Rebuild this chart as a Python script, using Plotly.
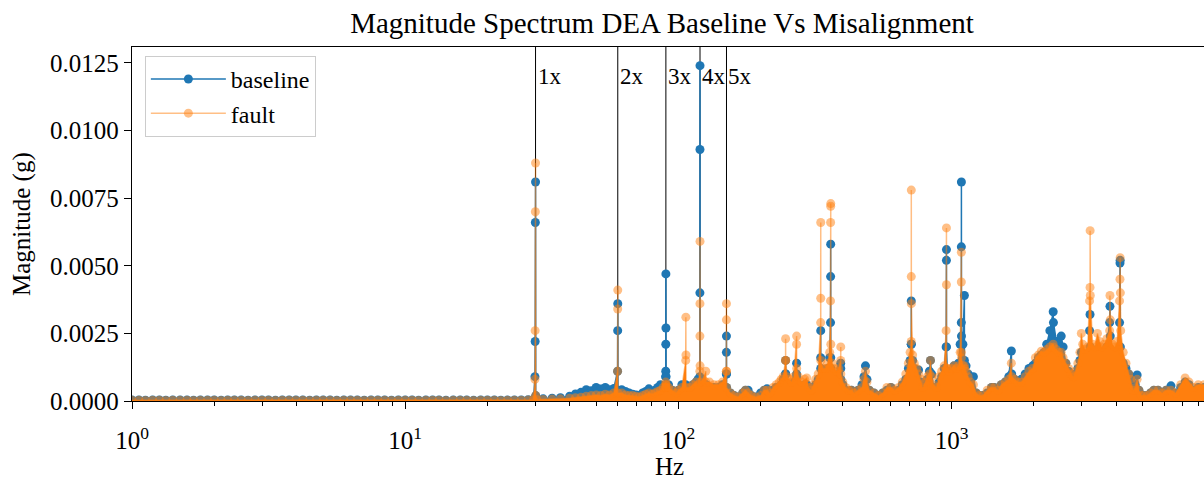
import numpy as np
import plotly.graph_objects as go

# ---------------- data ----------------
freq_hz = [
    # 1 - 30 Hz floor
    1.0, 1.06, 1.12, 1.19, 1.26, 1.33, 1.41, 1.5, 1.59, 1.68, 1.78, 1.89, 2.0, 2.12, 2.24, 2.37, 2.51, 2.66,
    2.82, 2.99, 3.16, 3.35, 3.55, 3.76, 3.98, 4.22, 4.47, 4.73, 5.01, 5.31, 5.62, 5.96, 6.31, 6.68, 7.08, 7.5,
    7.94, 8.41, 8.91, 9.44, 10.0, 10.6, 11.2, 11.9, 12.6, 13.3, 14.1, 15.0, 15.9, 16.8, 17.8, 18.9, 20.0, 21.2,
    22.4, 23.7, 25.1, 26.6, 28.2, 29.5,
    # 30 Hz peak and 30 - 60 Hz
    29.85, 29.9, 29.95, 30.0, 30.05, 30.3, 32.0, 34.5, 37.0, 40.0, 42.0, 44.0, 46.0, 48.0, 50.0, 52.0, 54.0,
    56.0, 58.0,
    # 60 Hz peak and 60 - 90 Hz
    59.9, 59.95, 60.0, 60.05, 62.0, 64.0, 66.0, 68.0, 70.0, 72.0, 74.0, 76.0, 78.0, 80.0, 82.0, 84.0, 86.0, 88.0,
    # 90 - 150 Hz
    89.8, 89.9, 89.95, 90.0, 90.05, 90.15, 92.0, 95.0, 98.0, 100.0, 103.0, 106.4, 106.5, 106.6, 106.7, 110.0,
    113.0, 116.0, 118.0, 119.85, 119.9, 119.95, 120.0, 120.05, 120.2, 123.0, 126.0, 126.1, 130.0, 135.0, 140.0,
    145.0, 149.8, 149.9, 149.95, 150.0, 150.1,
    # 150 - 300 Hz
    155, 160, 165, 172, 176, 180, 185, 192, 200, 206, 211, 216, 222, 228, 234, 238, 242, 246.8, 246.9, 247.0,
    250, 255, 260, 265, 270.8, 270.9, 271.0, 275, 283, 290, 295, 300,
    # 300 - 500 Hz
    306, 312, 318, 325, 331.8, 331.9, 332.0, 332.1, 338, 345, 352, 358, 360.5, 360.8, 361.0, 361.2, 361.4, 366,
    372, 380, 386, 392.8, 393.0, 393.2, 400, 410, 420, 430, 440, 455, 470, 478, 484, 490, 500,
    # 500 - 1000 Hz
    520, 540, 560, 580, 600, 620, 640, 660, 680, 695, 705, 711.8, 712.0, 712.2, 712.4, 720, 730, 745, 757, 770,
    785, 800, 815, 830, 837, 845, 860, 880, 900, 920, 940, 955, 957.6, 957.8, 958.0, 965, 980,
    # 1000 - 2000 Hz
    1000, 1020, 1040, 1060, 1075, 1085.5, 1086.0, 1086.5, 1087.0, 1100, 1114.0, 1114.5, 1130, 1150, 1175, 1202,
    1230, 1260, 1300, 1350, 1400, 1434, 1480, 1520, 1570, 1620, 1655, 1660, 1700, 1750, 1800, 1860, 1920, 1980,
    # 2000 - 8400 Hz
    2027, 2080, 2130, 2180, 2230, 2290, 2355, 2360, 2420, 2470,
    2520, 2560, 2620, 2680, 2740, 2790, 2840, 2900, 2950, 2985,
    3020, 3080, 3150, 3200, 3212, 3215, 3220, 3280, 3350, 3420,
    3480, 3550, 3620, 3700, 3790, 3800, 3810, 3880, 3960, 4040,
    4120, 4135, 4141, 4148, 4160, 4250, 4350, 4450, 4530, 4620,
    4700, 4777, 4850, 4950, 5050, 5200, 5350, 5500, 5700, 5900,
    6100, 6355, 6600, 6900, 7159, 7400, 7700, 8000, 8400,
]

baseline_g = [
    0.00004, 0.00004, 0.00003, 0.00004, 0.00004, 0.00003, 0.00004, 0.00004, 0.00004, 0.00003, 0.00004, 0.00004,
    0.00004, 0.00003, 0.00004, 0.00004, 0.00004, 0.00003, 0.00004, 0.00004, 0.00004, 0.00003, 0.00004, 0.00004,
    0.00004, 0.00004, 0.00003, 0.00004, 0.00004, 0.00004, 0.00003, 0.00004, 0.00004, 0.00004, 0.00003, 0.00004,
    0.00004, 0.00004, 0.00003, 0.00004, 0.00004, 0.00004, 0.00003, 0.00004, 0.00004, 0.00004, 0.00003, 0.00004,
    0.00004, 0.00004, 0.00003, 0.00004, 0.00004, 0.00004, 0.00003, 0.00004, 0.00004, 0.00004, 0.00005, 0.00006,
    0.0009, 0.0022, 0.0066, 0.0081, 0.0002, 0.00008, 0.00008, 0.0001, 0.00012, 0.00018, 0.00026, 0.00032,
    0.00042, 0.00038, 0.0005, 0.00044, 0.0005, 0.00042, 0.00046,
    0.0011, 0.0026, 0.0036, 0.0004, 0.00042, 0.00035, 0.0003, 0.00025, 0.00022, 0.0002, 0.0003, 0.00035,
    0.00045, 0.0003, 0.0004, 0.0005, 0.0006, 0.00055,
    0.0009, 0.0011, 0.0021, 0.0047, 0.0027, 0.0009, 0.0006, 0.0004, 0.0003, 0.0004, 0.0006, 0.0006, 0.0005,
    0.0005, 0.0005, 0.0005, 0.0006, 0.0007, 0.0008, 0.0009, 0.0040, 0.0093, 0.0124, 0.0007, 0.0007, 0.0006,
    0.0006, 0.0006, 0.0005, 0.0005, 0.0005, 0.0006, 0.0010, 0.0018, 0.0024, 0.0010, 0.0005,
    0.0003, 0.0002, 0.00015, 0.0003, 0.0004, 0.0004, 0.0002, 0.00015, 0.0003, 0.0004, 0.00045, 0.0003, 0.0004,
    0.0005, 0.0005, 0.0006, 0.0008, 0.0010, 0.0015, 0.0010, 0.0006, 0.0006, 0.0005, 0.0007, 0.0010, 0.0014,
    0.0009, 0.0006, 0.0005, 0.0006, 0.0006, 0.0004,
    0.0003, 0.0005, 0.0006, 0.0008, 0.0016, 0.0026, 0.0012, 0.0008, 0.0009, 0.0010, 0.0012, 0.0016, 0.0029,
    0.0046, 0.0058, 0.0016, 0.0012, 0.0010, 0.0009, 0.0008, 0.0010, 0.0014, 0.0012, 0.0008, 0.0006, 0.0004,
    0.0003, 0.0004, 0.0003, 0.0004, 0.0006, 0.0009, 0.0013, 0.0008, 0.0004,
    0.0003, 0.0002, 0.0003, 0.0004, 0.0005, 0.0003, 0.0004, 0.0006, 0.0008, 0.0012, 0.0015, 0.0021, 0.0037,
    0.0021, 0.0012, 0.0015, 0.0012, 0.0010, 0.00115, 0.0007, 0.0004, 0.0006, 0.0008, 0.0011, 0.0015, 0.0010,
    0.0005, 0.0004, 0.0007, 0.0009, 0.0012, 0.0020, 0.0052, 0.0056, 0.0020, 0.0011, 0.0010,
    0.0011, 0.0013, 0.0012, 0.0014, 0.0021, 0.0029, 0.0057, 0.0081, 0.0024, 0.0021, 0.0039, 0.0015, 0.0013,
    0.0010, 0.0008, 0.0009, 0.0003, 0.0002, 0.0002, 0.0003, 0.0005, 0.0005, 0.0004, 0.0006, 0.0007, 0.0009,
    0.00185, 0.0010, 0.0008, 0.0007, 0.0008, 0.0010, 0.0012, 0.0013,
    0.0014, 0.0016, 0.0017, 0.0018, 0.0021, 0.0026, 0.0033, 0.0029, 0.0022, 0.0020,
    0.0024, 0.0020, 0.0014, 0.0011, 0.0009, 0.0008, 0.0010, 0.0012, 0.0015, 0.0018,
    0.0016, 0.0015, 0.0017, 0.0026, 0.0032, 0.0020, 0.0018, 0.0017, 0.0016, 0.0019,
    0.0017, 0.0016, 0.0017, 0.0020, 0.0029, 0.0035, 0.0024, 0.0017, 0.0016, 0.0018,
    0.0029, 0.0051, 0.0052, 0.0020, 0.0015, 0.0014, 0.0012, 0.0010, 0.0008, 0.0004,
    0.0006, 0.00096, 0.0004, 0.0002, 0.0002, 0.0002, 0.0003, 0.0004, 0.0004, 0.0003,
    0.0004, 0.00056, 0.0003, 0.0005, 0.0007, 0.0006, 0.0004, 0.0005, 0.0005,
]

fault_g = [
    0.00003, 0.00003, 0.00002, 0.00003, 0.00003, 0.00002, 0.00003, 0.00003, 0.00003, 0.00002, 0.00003, 0.00003,
    0.00003, 0.00002, 0.00003, 0.00003, 0.00003, 0.00002, 0.00003, 0.00003, 0.00003, 0.00002, 0.00003, 0.00003,
    0.00003, 0.00003, 0.00002, 0.00003, 0.00003, 0.00003, 0.00002, 0.00003, 0.00003, 0.00003, 0.00002, 0.00003,
    0.00003, 0.00003, 0.00002, 0.00003, 0.00003, 0.00003, 0.00002, 0.00003, 0.00003, 0.00003, 0.00002, 0.00003,
    0.00003, 0.00003, 0.00002, 0.00003, 0.00003, 0.00003, 0.00002, 0.00003, 0.00003, 0.00003, 0.00004, 0.00005,
    0.0008, 0.0026, 0.0070, 0.0088, 0.0002, 0.00006, 0.00006, 0.00007, 0.00008, 0.0001, 0.00012, 0.00014,
    0.00018, 0.0002, 0.00022, 0.0002, 0.00025, 0.00022, 0.0003,
    0.0011, 0.0034, 0.0041, 0.0003, 0.0003, 0.00022, 0.0002, 0.0002, 0.00018, 0.00015, 0.0002, 0.00025,
    0.0003, 0.00025, 0.0003, 0.00035, 0.0004, 0.0005,
    0.0005, 0.0007, 0.0005, 0.0006, 0.0005, 0.0006, 0.0005, 0.0004, 0.0003, 0.0004, 0.0005, 0.0015, 0.0031,
    0.0017, 0.0005, 0.0005, 0.0006, 0.0007, 0.0006, 0.0011, 0.0024, 0.0036, 0.0059, 0.0013, 0.0007, 0.0008,
    0.0011, 0.0007, 0.0007, 0.0006, 0.0006, 0.0007, 0.0011, 0.0030, 0.0036, 0.0011, 0.0005,
    0.0003, 0.0002, 0.00015, 0.0003, 0.0004, 0.0003, 0.0002, 0.00015, 0.0002, 0.0004, 0.0004, 0.0003, 0.0005,
    0.0006, 0.0007, 0.0008, 0.0009, 0.0015, 0.0023, 0.0015, 0.0009, 0.0008, 0.0007, 0.0009, 0.0021, 0.0024,
    0.0012, 0.0009, 0.0007, 0.0008, 0.00085, 0.0005,
    0.0004, 0.0006, 0.0008, 0.0010, 0.0029, 0.0038, 0.0066, 0.0015, 0.0012, 0.0012, 0.0014, 0.0018, 0.0037,
    0.0066, 0.0072, 0.0073, 0.0021, 0.0014, 0.0012, 0.0011, 0.0012, 0.0015, 0.0020, 0.0010, 0.0007, 0.0005,
    0.0004, 0.0004, 0.0003, 0.0004, 0.0005, 0.0008, 0.0011, 0.0007, 0.0004,
    0.0003, 0.0002, 0.0003, 0.0005, 0.0005, 0.0004, 0.0005, 0.0007, 0.0010, 0.0014, 0.0018, 0.0022, 0.0046,
    0.0078, 0.0036, 0.0017, 0.0014, 0.0012, 0.0010, 0.0008, 0.0005, 0.0007, 0.0009, 0.0010, 0.0015, 0.0009,
    0.0006, 0.0005, 0.0009, 0.0011, 0.0013, 0.0026, 0.0043, 0.0064, 0.0012, 0.0012, 0.0011,
    0.0012, 0.0013, 0.0012, 0.0013, 0.0018, 0.0044, 0.0055, 0.0018, 0.0016, 0.0013, 0.0013, 0.0012, 0.0011,
    0.0009, 0.0007, 0.0006, 0.0003, 0.0002, 0.0002, 0.0004, 0.0005, 0.0005, 0.0004, 0.0006, 0.0007, 0.0008,
    0.0014, 0.0009, 0.0008, 0.0007, 0.0007, 0.0009, 0.0011, 0.0012,
    0.0016, 0.0017, 0.00184, 0.0018, 0.0019, 0.0020, 0.0021, 0.0020, 0.0019, 0.0018,
    0.0018, 0.0016, 0.0014, 0.0012, 0.0010, 0.0009, 0.0011, 0.0014, 0.0018, 0.0025,
    0.0021, 0.0019, 0.0020, 0.0037, 0.0042, 0.0063, 0.0039, 0.0021, 0.0020, 0.0025,
    0.0022, 0.0020, 0.0021, 0.0023, 0.0026, 0.0039, 0.0030, 0.0021, 0.0020, 0.0022,
    0.0037, 0.0045, 0.0053, 0.0040, 0.0026, 0.0018, 0.0014, 0.0010, 0.0008, 0.0004,
    0.0005, 0.0008, 0.0004, 0.0002, 0.0002, 0.0002, 0.0003, 0.0004, 0.0004, 0.0003,
    0.0004, 0.0004, 0.0003, 0.0006, 0.00085, 0.0007, 0.0005, 0.0006, 0.0006,
]

harmonic_hz = [30, 60, 90, 120, 150]
harmonic_labels = ["1x", "2x", "3x", "4x", "5x"]
x_tick_vals = [1, 10, 100, 1000]
x_tick_text = ["10<sup>0</sup>", "10<sup>1</sup>", "10<sup>2</sup>", "10<sup>3</sup>"]
y_tick_vals = [0.0, 0.0025, 0.005, 0.0075, 0.01, 0.0125]

assert len(freq_hz) == len(baseline_g) == len(fault_g)

# ---------------- styling ----------------
FONT = "Liberation Serif, Times New Roman, serif"
BLUE = "#1f77b4"
ORANGE = "#ff7f0e"
ORANGE_A = "rgba(255,127,14,0.5)"

fig = go.Figure()

# dense-area look (the many overlapping FFT bins) + the series themselves
fig.add_trace(go.Scatter(x=freq_hz, y=baseline_g, mode="lines", line=dict(width=0),
                         fill="tozeroy", fillcolor=BLUE, showlegend=False, hoverinfo="skip"))
fig.add_trace(go.Scatter(x=freq_hz, y=baseline_g, mode="lines+markers", name="baseline",
                         line=dict(color=BLUE, width=1.5), marker=dict(color=BLUE, size=9)))
fig.add_trace(go.Scatter(x=freq_hz, y=fault_g, mode="lines", line=dict(width=0),
                         fill="tozeroy", fillcolor=ORANGE, showlegend=False, hoverinfo="skip"))
fig.add_trace(go.Scatter(x=freq_hz, y=fault_g, mode="lines+markers", name="fault",
                         line=dict(color=ORANGE_A, width=1.5), marker=dict(color=ORANGE_A, size=9)))

for f, lab in zip(harmonic_hz, harmonic_labels):
    fig.add_shape(type="line", xref="x", yref="paper", x0=f, x1=f, y0=0, y1=1,
                  line=dict(color="black", width=1), layer="below")
    fig.add_annotation(x=np.log10(f), y=0.0120, xref="x", yref="y", text=lab, showarrow=False,
                       xanchor="left", yanchor="middle", xshift=0,
                       font=dict(family=FONT, size=23, color="black"))

minor_vals = [m * 10 ** d for d in range(4) for m in range(2, 10)]

fig.update_layout(
    width=1204, height=489,
    margin=dict(l=132, r=0, t=47, b=88),
    paper_bgcolor="white", plot_bgcolor="white",
    font=dict(family=FONT, size=24, color="black"),
    title=dict(text="Magnitude Spectrum DEA Baseline Vs Misalignment", x=(662 - 132) / 1072, xref="paper",
               xanchor="center", y=1 - 23 / 489, yref="container", yanchor="middle",
               font=dict(family=FONT, size=29, color="black")),
    showlegend=True,
    legend=dict(x=0.012, y=0.975, xanchor="left", yanchor="top", bgcolor="rgba(255,255,255,0.85)",
                bordercolor="#cccccc", borderwidth=1, font=dict(family=FONT, size=24, color="black"),
                tracegroupgap=0, itemwidth=75),
    xaxis=dict(type="log", range=[0, 3.924], showline=True, linecolor="black", linewidth=1.3, mirror=True,
               ticks="outside", ticklen=7, tickwidth=1.2, tickcolor="black",
               tickvals=x_tick_vals, ticktext=x_tick_text, showgrid=False, zeroline=False,
               ticklabelstandoff=10,
               minor=dict(ticks="outside", ticklen=4, tickwidth=1, tickcolor="black", tickvals=minor_vals,
                          showgrid=False),
               tickfont=dict(family=FONT, size=25, color="black")),
    yaxis=dict(range=[0, 0.01309], showline=True, linecolor="black", linewidth=1.3, mirror=False,
               ticks="outside", ticklen=7, tickwidth=1.2, tickcolor="black",
               tickvals=y_tick_vals, tickformat=".4f", showgrid=False, zeroline=False,
               tickfont=dict(family=FONT, size=25, color="black")),
)

fig.add_annotation(text="Magnitude (g)", xref="paper", yref="paper", x=(22 - 132) / 1072, y=0.5,
                   textangle=-90, showarrow=False, xanchor="center", yanchor="middle",
                   font=dict(family=FONT, size=25, color="black"))
fig.add_annotation(text="Hz", xref="paper", yref="paper", x=(669 - 132) / 1072, y=(401 - 466) / 354,
                   showarrow=False, xanchor="center", yanchor="middle",
                   font=dict(family=FONT, size=25, color="black"))

fig.write_html("out.html")
